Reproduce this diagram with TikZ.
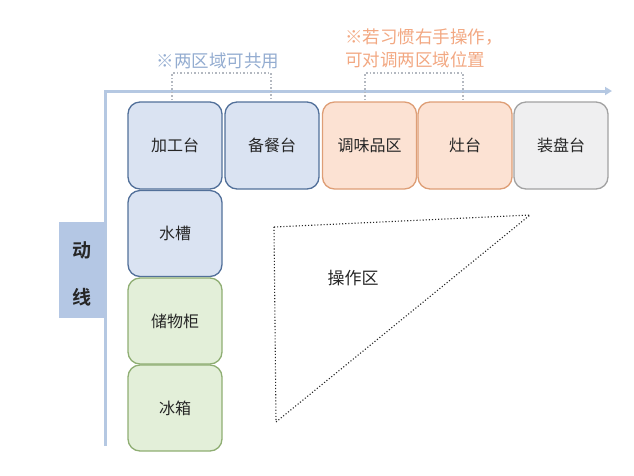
\documentclass[tikz,border=0pt]{standalone}
\usepackage{fontspec}
\setmainfont{Noto Sans CJK SC}
\newfontfamily\cjkbold{Noto Sans CJK SC Bold}
\usetikzlibrary{arrows.meta}
\definecolor{bluefill}{HTML}{DAE3F2}
\definecolor{blueline}{HTML}{52709A}
\definecolor{orfill}{HTML}{FCE2D3}
\definecolor{orline}{HTML}{DE9E76}
\definecolor{gyfill}{HTML}{EFEFF0}
\definecolor{gyline}{HTML}{A2A2A2}
\definecolor{grfill}{HTML}{E3EFD9}
\definecolor{grline}{HTML}{8FAE73}
\definecolor{axiscol}{HTML}{B5C8E2}
\definecolor{labfill}{HTML}{B4C7E4}
\definecolor{bluetxt}{HTML}{93ACD0}
\definecolor{ortxt}{HTML}{F2A882}
\definecolor{dotcol}{HTML}{B3B8C0}
\tikzset{
  box/.style={draw, rounded corners=12pt, line width=1.3pt, minimum width=94pt, minimum height=87pt, inner sep=0pt, font=\fontsize{16}{16}\selectfont, text=black!85},
  bluebox/.style={box, fill=bluefill, draw=blueline},
  orbox/.style={box, fill=orfill, draw=orline},
  gybox/.style={box, fill=gyfill, draw=gyline},
  grbox/.style={box, fill=grfill, draw=grline},
  axisline/.style={draw=axiscol, line width=3pt},
  bracket/.style={draw=dotcol, line width=1.5pt, dotted},
  tri/.style={draw=black!85, line width=1.1pt, dotted}
}
\begin{document}
\begin{tikzpicture}[x=1pt,y=-1pt]
\useasboundingbox (0,0) rectangle (634,475);
% axis
\coordinate (ab) at (105,446);
\coordinate (ao) at (105,91);
\coordinate (ae) at (612,91);
\draw[axisline, -{Triangle[length=7pt,width=8pt]}] (ab) -- (ao) -- (ae);
% label box
\node[fill=labfill, minimum width=46pt, minimum height=96pt, inner sep=0pt] (lab) at (81.5,270) {};
\node[font=\cjkbold\fontsize{19}{19}\selectfont, text=black!85] (l1) at (81.5,250) {动};
\node[font=\cjkbold\fontsize{19}{19}\selectfont, text=black!85] (l2) at (81.5,297) {线};
% top row
\node[bluebox] (jg) at (175,145.5) {加工台};
\node[bluebox] (bc) at (272,145.5) {备餐台};
\node[orbox] (tw) at (369.5,145.5) {调味品区};
\node[orbox] (zt) at (465,145.5) {灶台};
\node[gybox] (zp) at (561,145.5) {装盘台};
% column
\node[bluebox, minimum height=86pt] (sc) at (175,233.5) {水槽};
\node[grbox, minimum height=86pt] (cw) at (175,321) {储物柜};
\node[grbox, minimum height=86pt] (bx) at (175,408) {冰箱};
% brackets
\coordinate (b1a) at (172,100); \coordinate (b1b) at (172,73);
\coordinate (b1c) at (271,73); \coordinate (b1d) at (271,100);
\draw[bracket] (b1a) -- (b1b) -- (b1c) -- (b1d);
\coordinate (b2a) at (365,100); \coordinate (b2b) at (365,73);
\coordinate (b2c) at (463,73); \coordinate (b2d) at (463,100);
\draw[bracket] (b2a) -- (b2b) -- (b2c) -- (b2d);
% annotations
\node[font=\fontsize{17.5}{17.5}\selectfont, text=bluetxt, inner sep=0pt] (n1) at (218,61) {※两区域可共用};
\node[font=\fontsize{17.5}{23}\selectfont, text=ortxt, inner sep=0pt, align=left, anchor=west] (n2) at (345,48.5) {※若习惯右手操作，\\可对调两区域位置};
% triangle
\coordinate (t1) at (274,227);
\coordinate (t2) at (530,215);
\coordinate (t3) at (276,422);
\draw[tri] (t1) -- (t2) -- (t3) -- cycle;
\node[font=\fontsize{17}{17}\selectfont, text=black!85] (op) at (353,278) {操作区};
\end{tikzpicture}
\end{document}
